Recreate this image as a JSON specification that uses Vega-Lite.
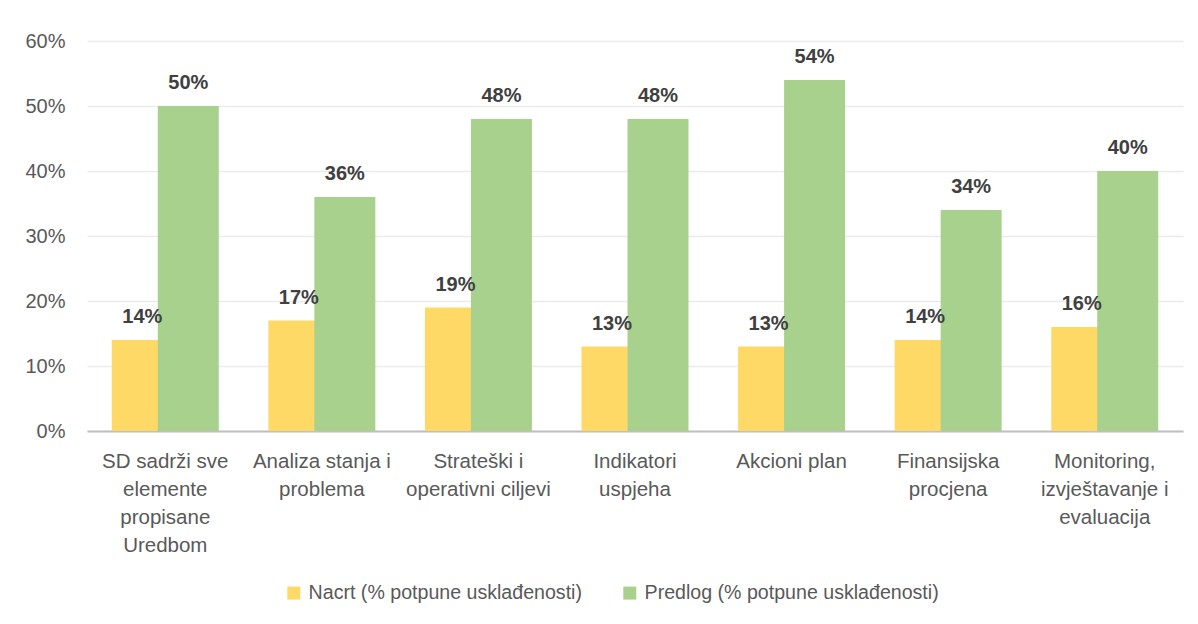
{
  "$schema": "https://vega.github.io/schema/vega-lite/v6.json",
  "autosize": "none",
  "width": 1096,
  "height": 390,
  "padding": {"left": 87, "top": 41, "right": 15, "bottom": 193},
  "background": "white",
  "config": {
    "font": "Liberation Sans, Arial, sans-serif",
    "view": {"stroke": null}
  },
  "data": {
    "values": [
      {"cat": "SD sadrži sve|elemente|propisane|Uredbom", "series": "Nacrt (% potpune usklađenosti)", "value": 0.14},
      {"cat": "SD sadrži sve|elemente|propisane|Uredbom", "series": "Predlog (% potpune usklađenosti)", "value": 0.50},
      {"cat": "Analiza stanja i|problema", "series": "Nacrt (% potpune usklađenosti)", "value": 0.17},
      {"cat": "Analiza stanja i|problema", "series": "Predlog (% potpune usklađenosti)", "value": 0.36},
      {"cat": "Strateški i|operativni ciljevi", "series": "Nacrt (% potpune usklađenosti)", "value": 0.19},
      {"cat": "Strateški i|operativni ciljevi", "series": "Predlog (% potpune usklađenosti)", "value": 0.48},
      {"cat": "Indikatori|uspjeha", "series": "Nacrt (% potpune usklađenosti)", "value": 0.13},
      {"cat": "Indikatori|uspjeha", "series": "Predlog (% potpune usklađenosti)", "value": 0.48},
      {"cat": "Akcioni plan", "series": "Nacrt (% potpune usklađenosti)", "value": 0.13},
      {"cat": "Akcioni plan", "series": "Predlog (% potpune usklađenosti)", "value": 0.54},
      {"cat": "Finansijska|procjena", "series": "Nacrt (% potpune usklađenosti)", "value": 0.14},
      {"cat": "Finansijska|procjena", "series": "Predlog (% potpune usklađenosti)", "value": 0.34},
      {"cat": "Monitoring,|izvještavanje i|evaluacija", "series": "Nacrt (% potpune usklađenosti)", "value": 0.16},
      {"cat": "Monitoring,|izvještavanje i|evaluacija", "series": "Predlog (% potpune usklađenosti)", "value": 0.40}
    ]
  },
  "encoding": {
    "x": {
      "field": "cat", "type": "nominal", "sort": null,
      "scale": {"paddingInner": 0, "paddingOuter": 0},
      "axis": {
        "title": null, "labelAngle": 0, "ticks": false,
        "domainColor": "#BFBFBF", "domainWidth": 2,
        "labelExpr": "split(datum.label, '|')",
        "labelFontSize": 20.5, "labelColor": "#595959", "labelLineHeight": 28,
        "labelPadding": 20, "labelLimit": 200
      }
    },
    "y": {
      "field": "value", "type": "quantitative",
      "scale": {"domain": [0, 0.6], "nice": false},
      "axis": {
        "title": null, "format": ".0%", "values": [0, 0.1, 0.2, 0.3, 0.4, 0.5, 0.6],
        "ticks": false, "domain": false, "gridColor": "#EBEBEB", "gridWidth": 1.5,
        "labelFontSize": 20, "labelColor": "#595959", "labelPadding": 22
      }
    }
  },
  "layer": [
    {
      "transform": [{"filter": "datum.series === 'Nacrt (% potpune usklađenosti)'"}],
      "mark": {"type": "bar", "width": 61, "xOffset": -23},
      "encoding": {
        "color": {
          "field": "series", "type": "nominal",
          "scale": {"domain": ["Nacrt (% potpune usklađenosti)", "Predlog (% potpune usklađenosti)"], "range": ["#FFD966", "#A9D18E"]},
          "legend": {
            "title": null, "orient": "none", "direction": "horizontal",
            "legendX": 197, "legendY": 542,
            "symbolType": "square", "symbolSize": 169, "symbolStrokeWidth": 0,
            "labelFontSize": 19.6, "labelColor": "#595959", "columnPadding": 38,
            "labelLimit": 400, "labelOffset": 5
          }
        }
      }
    },
    {
      "transform": [{"filter": "datum.series === 'Predlog (% potpune usklađenosti)'"}],
      "mark": {"type": "bar", "width": 61, "xOffset": 23},
      "encoding": {
        "color": {"field": "series", "type": "nominal"}
      }
    },
    {
      "transform": [{"filter": "datum.series === 'Nacrt (% potpune usklađenosti)'"}],
      "mark": {"type": "text", "xOffset": -23, "dy": -17, "baseline": "alphabetic", "fontSize": 20, "fontWeight": "bold", "color": "#404040"},
      "encoding": {"text": {"field": "value", "type": "quantitative", "format": ".0%"}}
    },
    {
      "transform": [{"filter": "datum.series === 'Predlog (% potpune usklađenosti)'"}],
      "mark": {"type": "text", "xOffset": 23, "dy": -17, "baseline": "alphabetic", "fontSize": 20, "fontWeight": "bold", "color": "#404040"},
      "encoding": {"text": {"field": "value", "type": "quantitative", "format": ".0%"}}
    }
  ]
}
